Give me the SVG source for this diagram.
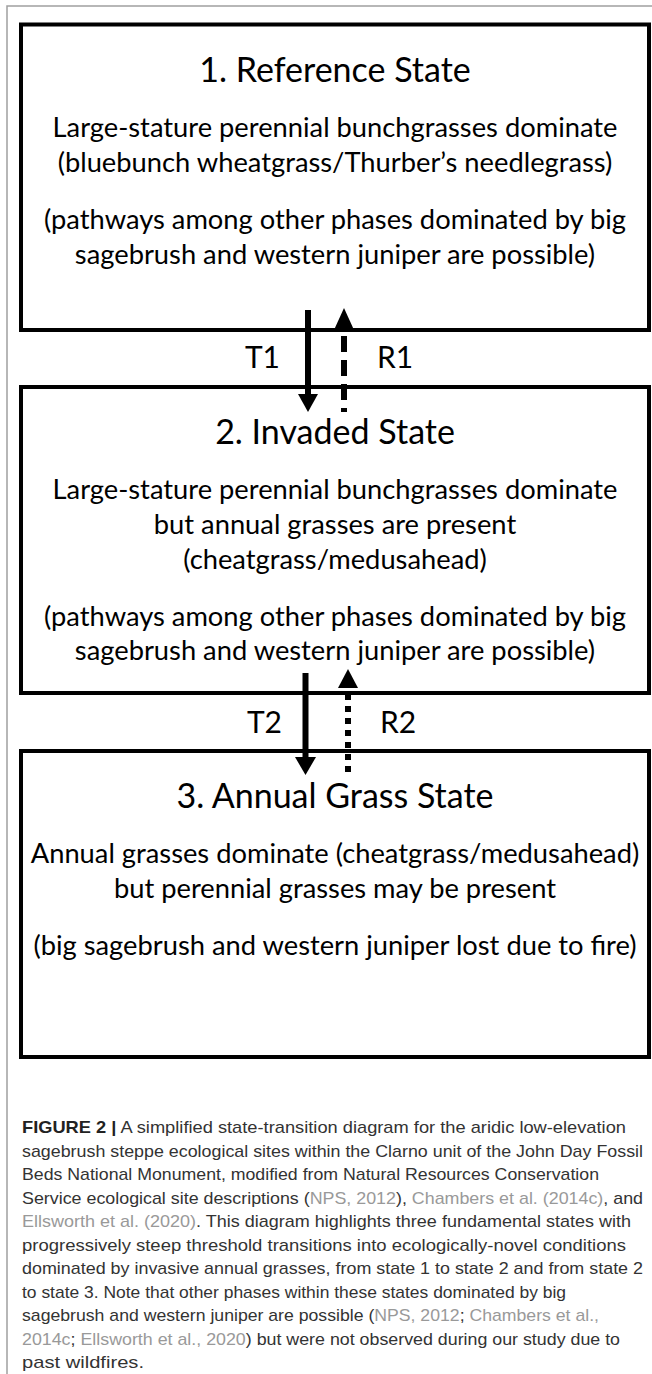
<svg xmlns="http://www.w3.org/2000/svg" width="652" height="1374" viewBox="0 0 652 1374">
<style>
.frame{stroke:#a0a0a0;stroke-width:1.5;fill:none}
.box{fill:#fff;stroke:#000;stroke-width:4}
.title{font-family:Lato,"Open Sans",sans-serif;font-size:34px;fill:#000;text-anchor:middle}
.body{font-family:Lato,"Open Sans",sans-serif;font-size:27.3px;fill:#000;text-anchor:middle}
.lbl{font-family:Lato,"Open Sans",sans-serif;font-size:30px;fill:#000}
.cap{font-family:"Liberation Sans",Arial,sans-serif;font-size:17px;fill:#333}
.ref{fill:#999}
.solid{stroke:#000;stroke-width:6;fill:none}
.dash{stroke:#000;stroke-width:6;fill:none;stroke-dasharray:16 8}
.dot{stroke:#000;stroke-width:6;fill:none;stroke-dasharray:6 6}
.head{fill:#000}
</style>
<path class="frame" d="M7 1374V6H652"/>
<g id="state1">
<rect class="box" x="21" y="24.5" width="628" height="305.5"/>
<text class="title" x="335" y="82">1. Reference State</text>
<text class="body" x="335" y="137">Large-stature perennial bunchgrasses dominate</text>
<text class="body" x="335" y="172">(bluebunch wheatgrass/Thurber’s needlegrass)</text>
<text class="body" x="335" y="229">(pathways among other phases dominated by big</text>
<text class="body" x="335" y="264">sagebrush and western juniper are possible)</text>
</g>
<g id="state2">
<rect class="box" x="21" y="387" width="628" height="306"/>
<text class="title" x="335" y="444">2. Invaded State</text>
<text class="body" x="335" y="499">Large-stature perennial bunchgrasses dominate</text>
<text class="body" x="335" y="534">but annual grasses are present</text>
<text class="body" x="335" y="569">(cheatgrass/medusahead)</text>
<text class="body" x="335" y="626">(pathways among other phases dominated by big</text>
<text class="body" x="335" y="660">sagebrush and western juniper are possible)</text>
</g>
<g id="state3">
<rect class="box" x="21" y="751" width="628" height="306"/>
<text class="title" x="335" y="808">3. Annual Grass State</text>
<text class="body" x="335" y="863">Annual grasses dominate (cheatgrass/medusahead)</text>
<text class="body" x="335" y="898">but perennial grasses may be present</text>
<text class="body" x="335" y="955">(big sagebrush and western juniper lost due to fire)</text>
</g>
<g id="connectors">
<line class="solid" x1="308" y1="310" x2="308" y2="396"/>
<polygon class="head" points="298,394 318,394 308,412"/>
<line class="dash" x1="344" y1="336" x2="344" y2="412"/>
<polygon class="head" points="334,330 354,330 344,308"/>
<text class="lbl" x="280" y="368" text-anchor="end">T1</text>
<text class="lbl" x="377" y="368">R1</text>
<line class="solid" x1="305.5" y1="673" x2="305.5" y2="759"/>
<polygon class="head" points="295,757 316,757 305.5,775"/>
<line class="dot" x1="348" y1="694" x2="348" y2="772"/>
<polygon class="head" points="338,688 358,688 348,669"/>
<text class="lbl" x="282" y="733" text-anchor="end">T2</text>
<text class="lbl" x="380" y="733">R2</text>
</g>
<g id="caption">
<text class="cap" x="22" y="1133" textLength="604" lengthAdjust="spacingAndGlyphs"><tspan font-weight="bold" fill="#222">FIGURE 2 |</tspan> A simplified state-transition diagram for the aridic low-elevation</text>
<text class="cap" x="22" y="1156.5" textLength="621" lengthAdjust="spacingAndGlyphs">sagebrush steppe ecological sites within the Clarno unit of the John Day Fossil</text>
<text class="cap" x="22" y="1180" textLength="577" lengthAdjust="spacingAndGlyphs">Beds National Monument, modified from Natural Resources Conservation</text>
<text class="cap" x="22" y="1203.5" textLength="621" lengthAdjust="spacingAndGlyphs">Service ecological site descriptions (<tspan class="ref">NPS, 2012</tspan>), <tspan class="ref">Chambers et al. (2014c)</tspan>, and</text>
<text class="cap" x="22" y="1227" textLength="609" lengthAdjust="spacingAndGlyphs"><tspan class="ref">Ellsworth et al. (2020)</tspan>. This diagram highlights three fundamental states with</text>
<text class="cap" x="22" y="1250.5" textLength="604" lengthAdjust="spacingAndGlyphs">progressively steep threshold transitions into ecologically-novel conditions</text>
<text class="cap" x="22" y="1274" textLength="621" lengthAdjust="spacingAndGlyphs">dominated by invasive annual grasses, from state 1 to state 2 and from state 2</text>
<text class="cap" x="22" y="1297.5" textLength="544" lengthAdjust="spacingAndGlyphs">to state 3. Note that other phases within these states dominated by big</text>
<text class="cap" x="22" y="1321" textLength="577" lengthAdjust="spacingAndGlyphs">sagebrush and western juniper are possible (<tspan class="ref">NPS, 2012</tspan>; <tspan class="ref">Chambers et al.,</tspan></text>
<text class="cap" x="22" y="1344.5" textLength="598" lengthAdjust="spacingAndGlyphs"><tspan class="ref">2014c</tspan>; <tspan class="ref">Ellsworth et al., 2020</tspan>) but were not observed during our study due to</text>
<text class="cap" x="22" y="1368" textLength="122" lengthAdjust="spacingAndGlyphs">past wildfires.</text>
</g>
</svg>
